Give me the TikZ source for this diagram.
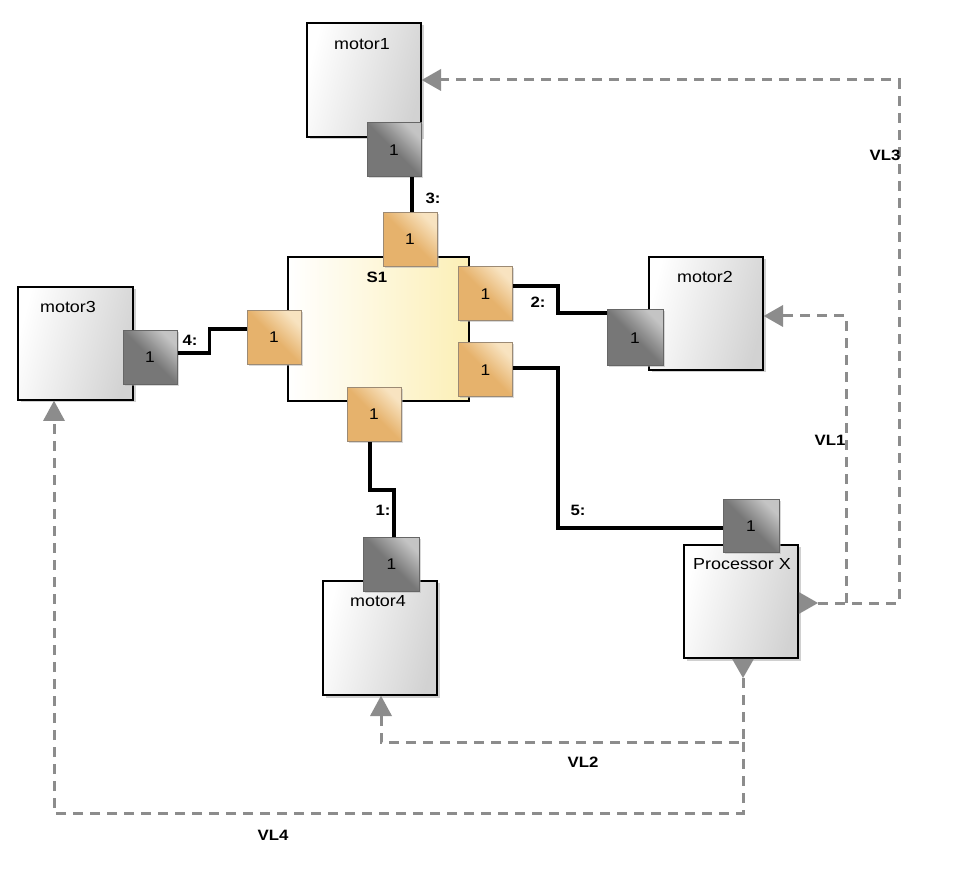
\documentclass[tikz,border=0pt]{standalone}
\usepackage{fontspec}
\setmainfont[FakeStretch=1.12]{Liberation Sans}
\usetikzlibrary{shadows}
\definecolor{boxgray}{HTML}{D2D2D2}
\definecolor{s1yel}{HTML}{FCEFB6}
\definecolor{portdark}{HTML}{777777}
\definecolor{portlight}{HTML}{C4C4C4}
\definecolor{portedge}{HTML}{666666}
\definecolor{ordark}{HTML}{E6B26C}
\definecolor{orlight}{HTML}{F8E3C0}
\definecolor{oredge}{HTML}{9C8A74}
\definecolor{vlgray}{HTML}{8C8C8C}
\tikzset{
  comp/.style={draw=black, line width=1.5pt, inner sep=0pt, minimum width=114pt, minimum height=114pt,
    left color=white, right color=boxgray, shading angle=75,
    drop shadow={shadow xshift=2.5pt, shadow yshift=-2.5pt, fill=black!30, opacity=0.6}},
  gport/.style={draw=portedge, line width=1pt, inner sep=0pt, minimum width=54pt, minimum height=54pt,
    top color=portlight, bottom color=portdark, middle color=portdark, shading angle=-45,
    font=\fontsize{15.5}{17}\selectfont,
    drop shadow={shadow xshift=1.5pt, shadow yshift=-1.5pt, fill=black!30, opacity=0.5}},
  oport/.style={draw=oredge, line width=1pt, inner sep=0pt, minimum width=54pt, minimum height=54pt,
    top color=orlight, bottom color=ordark, middle color=ordark, shading angle=-45,
    font=\fontsize{15.5}{17}\selectfont,
    drop shadow={shadow xshift=1.5pt, shadow yshift=-1.5pt, fill=black!30, opacity=0.5}},
  ttl/.style={font=\fontsize{16}{18}\selectfont, inner sep=0pt},
  lbl/.style={font=\fontsize{15}{17}\selectfont\bfseries, inner sep=0pt},
  link/.style={draw=black, line width=3.5pt},
  vl/.style={draw=vlgray, line width=3pt, dash pattern=on 10pt off 7pt},
  tri/.style={fill=vlgray, draw=none}
}
\begin{document}
\begin{tikzpicture}[x=1pt,y=-1pt]
\useasboundingbox (0,0) rectangle (954,874);
\fill[white] (0,0) rectangle (954,874);

% component boxes
\node[comp] (m1) at (364,80) {};
\node[comp, minimum width=115pt, minimum height=113pt] (m3) at (75.5,343.5) {};
\node[comp, minimum height=113pt] (m2) at (706,313.5) {};
\node[comp] (m4) at (380,638) {};
\node[comp, minimum height=113pt] (px) at (741,601.5) {};
\node[draw=black, line width=1.5pt, inner sep=0pt, minimum width=181pt, minimum height=144pt,
  left color=white, right color=s1yel] (s1) at (378.5,329) {};

% titles
\node[ttl] (t1) at (362,44) {motor1};
\node[ttl] (t3) at (68,307) {motor3};
\node[ttl] (t2) at (705,277) {motor2};
\node[ttl] (t4) at (378,601) {motor4};
\node[ttl] (tx) at (742,564) {Processor X};
\node[lbl] (ts1) at (377,277) {S1};

% ports
\node[gport] (p1) at (394,150) {1};
\node[gport] (p3) at (150,357.5) {1};
\node[gport, minimum width=56pt, minimum height=56pt] (p2) at (635,338) {1};
\node[gport, minimum width=56pt, minimum height=53pt] (p4) at (391.5,564.5) {1};
\node[gport, minimum width=56pt, minimum height=53pt] (pX) at (751,526.5) {1};
\node[oport] (s3) at (410,239.5) {1};
\node[oport] (s2) at (485.5,294) {1};
\node[oport] (s5) at (485.5,370) {1};
\node[oport] (sb) at (374,414.5) {1};
\node[oport] (s4) at (274,337.5) {1};

% links
\draw[link] ([xshift=2pt]s3.north) -- ([xshift=2pt]s3.north |- p1.south);
\draw[link] ([yshift=4.5pt]p3.east) -- ++(32,0) |- ([yshift=8.5pt]s4.west);
\draw[link] ([yshift=8pt]s2.east) -- (558,286) |- ([yshift=25pt]p2.west);
\draw[link] ([yshift=2pt]s5.east) -- (558,368) |- ([yshift=-1.5pt]pX.west);
\draw[link] ([xshift=-4pt]sb.south) -- (370,490) -| ([xshift=2.5pt]p4.north);

\node[lbl] (l3) at (433,198) {3:};
\node[lbl] (l2) at (538,302) {2:};
\node[lbl] (l4) at (190,340) {4:};
\node[lbl] (l5) at (578,510) {5:};
\node[lbl] (l1) at (383,510) {1:};

% virtual link triangles
\coordinate (pxr) at (818,603);
\coordinate (pxb) at (743,678);
\coordinate (a1) at (441,80);
\coordinate (a2) at (783,316);
\coordinate (a4) at (381,716);
\coordinate (a3) at (54,421);

\draw[vl] (pxr) -- (899,603) |- (a1);
\draw[vl] (846,603) |- (a2);
\draw[vl] (pxb) -- (743,742) -| (a4);
\draw[vl] (743,742) -- (743,813) -| (a3);

\fill[tri] (px.east |- pxr) ++(0,-11) -- ++(0,22) -- (pxr) -- cycle;
\fill[tri] (px.south -| pxb) ++(-11,0) -- ++(22,0) -- (pxb) -- cycle;
\fill[tri] (m1.east |- a1) -- ([yshift=11pt]a1) -- ([yshift=-11pt]a1) -- cycle;
\fill[tri] (m2.east |- a2) -- ([yshift=11pt]a2) -- ([yshift=-11pt]a2) -- cycle;
\fill[tri] (m4.south -| a4) -- ([xshift=11pt]a4) -- ([xshift=-11pt]a4) -- cycle;
\fill[tri] (m3.south -| a3) -- ([xshift=11pt]a3) -- ([xshift=-11pt]a3) -- cycle;

\node[lbl] (v3) at (885,155) {VL3};
\node[lbl] (v1) at (830,440) {VL1};
\node[lbl] (v2) at (583,762) {VL2};
\node[lbl] (v4) at (273,835) {VL4};
\end{tikzpicture}
\end{document}
